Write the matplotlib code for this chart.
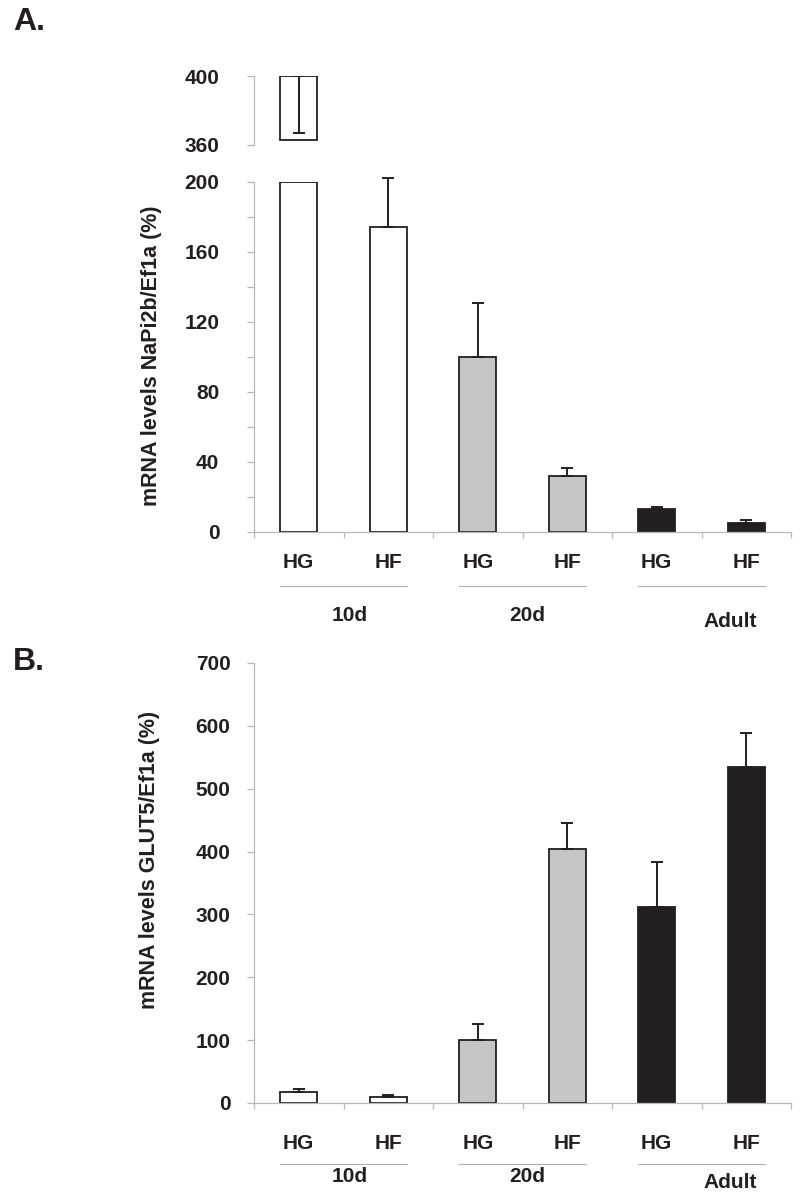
import numpy as np
import matplotlib
matplotlib.use('Agg')
import matplotlib.pyplot as plt
import matplotlib.transforms as mtransforms

plt.rcParams['font.family'] = ['Liberation Sans', 'DejaVu Sans']
plt.rcParams['font.weight'] = 'bold'
plt.rcParams['font.size'] = 15

# ---- data ----
conditions = ['HG', 'HF', 'HG', 'HF', 'HG', 'HF']
groups = ['10d', '20d', 'Adult']
bar_colors = ['white', 'white', '#c4c5c7', '#c4c5c7', '#231f20', '#231f20']

# panel A, NaPi2b/Ef1a (%)
napi = [400, 174, 100, 32, 13, 5]
napi_err = [33, 28, 31, 4.5, 1.3, 2]   # first bar: error drawn downwards (as in original)
napi_low_ticks = [0, 40, 80, 120, 160, 200]
napi_top_ticks = [360, 400]
napi_break_bottom = 363                # where the upper box starts

# panel B, GLUT5/Ef1a (%)
glut5 = [18, 10, 100, 404, 312, 534]
glut5_err = [4, 3, 26, 41, 72, 54]
glut5_ticks = [0, 100, 200, 300, 400, 500, 600, 700]

ink = '#231f20'
spine_c = '#b8b8b8'
W, H = 800, 1199


def ax_rect(left, top, right, bottom):
    return [left / W, 1 - bottom / H, (right - left) / W, (bottom - top) / H]


def style_axes(ax, ypad):
    for s in ['top', 'right']:
        ax.spines[s].set_visible(False)
    for s in ['left', 'bottom']:
        ax.spines[s].set_color(spine_c)
        ax.spines[s].set_linewidth(0.9)
    ax.tick_params(axis='both', which='both', color=spine_c, width=0.9,
                   direction='out', labelcolor=ink)
    ax.tick_params(axis='y', which='major', length=5, pad=ypad, labelsize=15)
    ax.tick_params(axis='y', which='minor', length=5)


def category_axis(ax, xpad, line_y, label_y, label_dx):
    x = np.arange(len(conditions)) + 0.5
    ax.set_xlim(0, len(conditions))
    ax.set_xticks(np.arange(len(conditions) + 1))
    ax.set_xticklabels([])
    ax.tick_params(axis='x', which='major', length=4)
    ax.set_xticks(x, minor=True)
    ax.set_xticklabels(conditions, minor=True, fontsize=15, fontweight='bold')
    ax.tick_params(axis='x', which='minor', length=0, pad=xpad)
    trans = mtransforms.blended_transform_factory(ax.transData, ax.transAxes)
    for g, name in enumerate(groups):
        x0 = 2 * g + 0.5 - 0.21
        x1 = 2 * g + 1.5 + 0.21
        ax.plot([x0, x1], [line_y, line_y], color='#b0b0b0', lw=0.8,
                transform=trans, clip_on=False)
        ax.text(2 * g + 1 + label_dx[g], label_y[g], name, transform=trans,
                ha='center', va='center', fontsize=15, fontweight='bold', color=ink)


fig = plt.figure(figsize=(W / 100, H / 100), dpi=100)
x = np.arange(len(conditions)) + 0.5
bw = 0.41
bar_kw = dict(width=bw, edgecolor=ink, linewidth=1.3, zorder=2)
err_kw = dict(fmt='none', ecolor=ink, elinewidth=1.4, capsize=4.5, capthick=1.4, zorder=3)

# ---------- panel A ----------
axA = fig.add_axes(ax_rect(254, 182, 791, 532))
axA_top = fig.add_axes(ax_rect(254, 76, 791, 145))

low_vals = [min(v, 200) for v in napi]
axA.bar(x, low_vals, color=bar_colors, **bar_kw)
mask = np.array([v <= 200 for v in napi])
xm = x[mask]
eb = axA.errorbar(xm, np.array(napi)[mask],
                  yerr=[np.zeros(len(xm)), np.array(napi_err)[mask]], **err_kw)
for art in eb.lines[1] + eb.lines[2]:
    art.set_clip_on(False)
axA.set_ylim(0, 200)
axA.set_yticks(napi_low_ticks)
axA.set_yticks(np.arange(20, 200, 40), minor=True)
style_axes(axA, 20)
category_axis(axA, 15, -0.155, [-0.24, -0.24, -0.257], [0.07, 0.05, 0.32])

# broken upper part
big = [i for i, v in enumerate(napi) if v > 200]
for i in big:
    axA_top.bar(x[i], napi[i] - napi_break_bottom, bottom=napi_break_bottom,
                color=bar_colors[i], **bar_kw)
    axA_top.errorbar([x[i]], [napi[i]], yerr=[[napi_err[i]], [0]], **err_kw)
axA_top.set_xlim(0, len(conditions))
axA_top.set_ylim(360, 400)
axA_top.set_yticks(napi_top_ticks)
style_axes(axA_top, 20)
axA_top.spines['bottom'].set_visible(False)
axA_top.set_xticks([])

fig.text(152 / W, 1 - 356 / H, 'mRNA levels NaPi2b/Ef1a (%)', rotation=90,
         ha='center', va='center', fontsize=15.5, fontweight='bold', color=ink)
fig.text(13 / W, 1 - 22 / H, 'A.', ha='left', va='center', fontsize=23,
         fontweight='bold', color=ink)

# ---------- panel B ----------
axB = fig.add_axes(ax_rect(254, 663, 791, 1103))
axB.bar(x, glut5, color=bar_colors, **bar_kw)
axB.errorbar(x, glut5, yerr=[np.zeros(len(x)), glut5_err], **err_kw)
axB.set_ylim(0, 700)
axB.set_yticks(glut5_ticks)
style_axes(axB, 12)
category_axis(axB, 22, -0.138, [-0.168, -0.168, -0.18], [0.07, 0.05, 0.32])

fig.text(150 / W, 1 - 860 / H, 'mRNA levels GLUT5/Ef1a (%)', rotation=90,
         ha='center', va='center', fontsize=15.5, fontweight='bold', color=ink)
fig.text(13 / W, 1 - 662 / H, 'B.', ha='left', va='center', fontsize=23,
         fontweight='bold', color=ink)

fig.savefig('out.png', dpi=100)
